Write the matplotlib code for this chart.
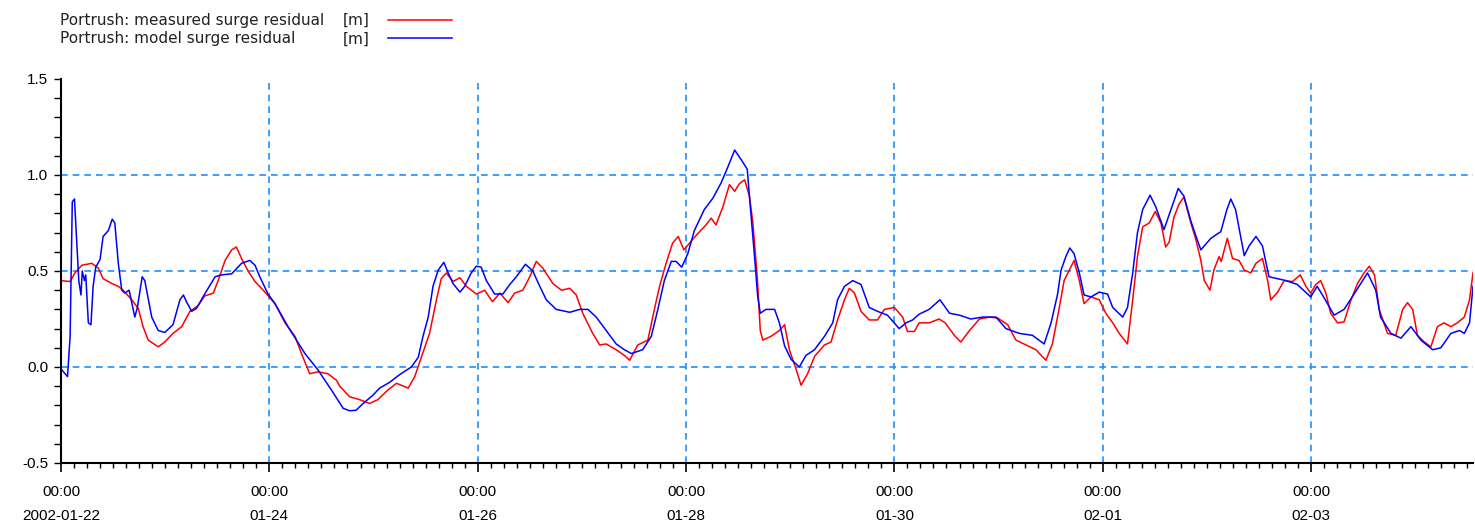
import matplotlib
matplotlib.use("Agg")
import matplotlib.pyplot as plt
import matplotlib.dates as mdates
from matplotlib.ticker import MultipleLocator
import pandas as pd

plt.rcParams['axes.unicode_minus'] = False

# start of the record
start = pd.Timestamp('2002-01-22 00:00')
end_hours = 325.3

# model surge residual (hours after start, metres)
model_hours = [0, 1.5, 2.1, 2.6, 3.1, 3.6, 4.1, 4.6, 4.9, 5.4, 5.7, 6.3, 6.9, 7.4, 8.0, 9.0, 9.7,
               10.9, 11.8, 12.4, 13.2, 14.0, 14.7, 15.7, 17.0, 17.6, 18.7, 19.3, 20.9, 22.4, 23.9,
               25.8, 27.4, 28.2, 28.9, 30.1, 31.2, 33.1, 35.5, 37.0, 39.3, 41.6, 43.5, 44.7, 45.8,
               47.7, 49.3, 52.3, 56.2, 59.2, 62.3, 65.0, 66.5, 68.0, 69.6, 71.9, 73.4, 75.7, 78.0,
               80.7, 82.3, 83.4, 84.6, 85.7, 86.9, 88.2, 89.2, 90.3, 91.9, 93.0, 94.5, 95.7, 96.8,
               98.0, 99.9, 101.8, 103.4, 104.9, 107.0, 108.7, 110.3, 111.8, 114.1, 117.2, 119.5,
               121.4, 123.3, 125.6, 127.9, 129.8, 131.4, 134.0, 136.0, 137.5, 139.0, 140.6, 141.7,
               143.0, 144.4, 145.9, 148.2, 150.2, 152.1, 153.6, 155.2, 156.7, 158.1, 158.6, 159.8,
               160.5, 161.1, 162.4, 164.4, 165.5, 166.7, 168.2, 170.1, 171.6, 173.6, 175.9, 177.8,
               178.9, 180.5, 182.4, 184.3, 186.2, 188.1, 190.4, 193.1, 194.7, 196.2, 197.7, 200.0,
               202.5, 204.7, 207.0, 209.6, 212.3, 215.4, 217.7, 220.8, 223.8, 226.5, 228.1, 229.6,
               230.4, 231.5, 232.4, 233.4, 234.6, 235.7, 237.3, 239.2, 241.1, 242.3, 244.6, 245.7,
               246.9, 248.0, 249.2, 250.9, 252.2, 254.1, 255.7, 257.4, 258.7, 260.3, 261.5, 262.6,
               264.9, 267.2, 268.6, 269.5, 270.6, 272.6, 273.7, 275.3, 276.8, 278.3, 280.2, 282.2,
               284.8, 287.9, 289.4, 291.0, 293.3, 295.6, 297.9, 301.0, 302.9, 304.0, 306.4, 308.7,
               311.0, 313.3, 316.0, 317.9, 320.2, 322.2, 323.3, 324.5, 325.3]
model_vals = [-0.01, -0.05, 0.16, 0.86, 0.875, 0.66, 0.45, 0.375, 0.50, 0.45, 0.48, 0.23, 0.22, 0.42,
              0.52, 0.56, 0.68, 0.71, 0.77, 0.75, 0.54, 0.40, 0.385, 0.40, 0.26, 0.31, 0.47, 0.45,
              0.26, 0.19, 0.18, 0.22, 0.35, 0.375, 0.34, 0.29, 0.305, 0.38, 0.47, 0.48, 0.485, 0.54,
              0.555, 0.53, 0.47, 0.38, 0.33, 0.21, 0.07, -0.015, -0.12, -0.215, -0.228, -0.225,
              -0.19, -0.146, -0.11, -0.08, -0.04, 0.00, 0.05, 0.16, 0.26, 0.42, 0.505, 0.545, 0.49,
              0.435, 0.39, 0.42, 0.49, 0.525, 0.52, 0.45, 0.38, 0.38, 0.43, 0.47, 0.535, 0.50, 0.42,
              0.35, 0.30, 0.285, 0.30, 0.30, 0.26, 0.19, 0.12, 0.09, 0.07, 0.09, 0.16, 0.30, 0.45,
              0.55, 0.55, 0.52, 0.59, 0.71, 0.82, 0.88, 0.96, 1.04, 1.13, 1.08, 1.03, 0.89, 0.57,
              0.37, 0.28, 0.30, 0.30, 0.23, 0.11, 0.04, 0.00, 0.06, 0.09, 0.16, 0.23, 0.35, 0.42,
              0.45, 0.43, 0.31, 0.29, 0.27, 0.20, 0.23, 0.245, 0.275, 0.30, 0.35, 0.28, 0.27, 0.25,
              0.26, 0.26, 0.20, 0.175, 0.165, 0.12, 0.23, 0.38, 0.505, 0.575, 0.62, 0.59, 0.49,
              0.375, 0.365, 0.39, 0.38, 0.31, 0.26, 0.31, 0.49, 0.70, 0.82, 0.895, 0.835, 0.715,
              0.82, 0.93, 0.89, 0.76, 0.68, 0.61, 0.67, 0.705, 0.82, 0.875, 0.82, 0.58, 0.63, 0.68,
              0.63, 0.47, 0.46, 0.45, 0.43, 0.365, 0.42, 0.36, 0.27, 0.30, 0.38, 0.49, 0.40, 0.26,
              0.175, 0.15, 0.21, 0.14, 0.09, 0.10, 0.175, 0.19, 0.175, 0.23, 0.42]

# measured surge residual (hours after start, metres)
meas_hours = [0, 2.1, 3.2, 4.8, 7.1, 8.6, 9.7, 11.7, 13.2, 14.3, 16.3, 17.8, 18.9, 20.1, 22.4, 23.9,
              25.8, 27.8, 29.7, 31.6, 33.1, 35.1, 36.2, 37.8, 39.3, 40.4, 41.6, 43.1, 44.7, 47.0,
              49.3, 51.6, 53.9, 55.4, 57.3, 59.2, 61.5, 63.5, 64.2, 66.5, 68.8, 71.1, 73.0, 75.3,
              77.3, 80.0, 81.5, 83.0, 84.9, 86.5, 87.6, 88.8, 90.3, 91.9, 93.4, 95.7, 97.6, 99.4,
              101.1, 103.0, 104.5, 106.4, 108.0, 109.5, 111.0, 113.3, 115.3, 117.2, 118.7, 120.2,
              122.5, 124.1, 125.6, 127.9, 129.8, 131.0, 132.9, 135.2, 136.7, 137.9, 139.4, 140.9,
              142.2, 143.5, 144.8, 146.7, 148.6, 149.8, 150.9, 152.5, 154.0, 155.2, 156.3, 157.5,
              158.6, 159.4, 160.4, 161.1, 161.7, 163.6, 165.5, 166.7, 167.8, 169.4, 170.5, 172.0,
              173.6, 175.9, 177.4, 178.9, 180.5, 181.6, 182.8, 184.3, 186.2, 188.1, 189.7, 192.0,
              193.9, 195.0, 196.6, 197.7, 200.0, 202.3, 203.7, 205.8, 207.3, 209.3, 211.6, 213.9,
              215.8, 218.1, 220.0, 222.3, 224.6, 226.9, 228.4, 230.0, 231.1, 232.3, 233.4, 234.6,
              235.7, 237.3, 239.2, 240.7, 242.3, 243.8, 245.7, 246.9, 248.0, 249.2, 250.7, 252.1,
              253.4, 254.5, 255.3, 256.4, 257.6, 258.7, 260.3, 261.5, 262.6, 263.4, 264.7, 265.6,
              266.8, 267.3, 268.7, 269.9, 271.4, 272.6, 274.1, 275.3, 276.8, 278.0, 278.7, 280.3,
              281.8, 283.7, 285.5, 286.8, 287.9, 289.1, 290.2, 291.4, 292.5, 294.1, 295.6, 297.2,
              298.7, 300.2, 301.4, 302.6, 303.7, 305.6, 307.5, 309.1, 310.2, 311.4, 312.5, 314.1,
              315.6, 317.1, 318.6, 320.2, 321.7, 323.3, 324.5, 325.3]
meas_vals = [0.45, 0.445, 0.49, 0.53, 0.54, 0.515, 0.46, 0.435, 0.42, 0.40, 0.35, 0.305, 0.21, 0.14,
             0.105, 0.13, 0.175, 0.21, 0.29, 0.32, 0.37, 0.385, 0.45, 0.555, 0.61, 0.625, 0.565,
             0.50, 0.445, 0.39, 0.33, 0.23, 0.16, 0.07, -0.035, -0.025, -0.035, -0.07, -0.10,
             -0.155, -0.17, -0.19, -0.17, -0.12, -0.085, -0.11, -0.05, 0.05, 0.175, 0.35, 0.46,
             0.49, 0.445, 0.465, 0.42, 0.38, 0.40, 0.34, 0.385, 0.335, 0.385, 0.40, 0.47, 0.55,
             0.515, 0.435, 0.40, 0.41, 0.375, 0.28, 0.175, 0.115, 0.12, 0.09, 0.06, 0.035, 0.115,
             0.14, 0.30, 0.42, 0.54, 0.645, 0.68, 0.61, 0.645, 0.695, 0.74, 0.775, 0.74, 0.835,
             0.95, 0.915, 0.955, 0.975, 0.89, 0.75, 0.47, 0.19, 0.14, 0.16, 0.19, 0.22, 0.09,
             -0.015, -0.095, -0.035, 0.055, 0.115, 0.13, 0.245, 0.35, 0.41, 0.385, 0.29, 0.245,
             0.245, 0.30, 0.31, 0.26, 0.185, 0.185, 0.23, 0.23, 0.25, 0.23, 0.165, 0.13, 0.19,
             0.25, 0.26, 0.255, 0.22, 0.14, 0.115, 0.09, 0.035, 0.12, 0.31, 0.45, 0.505, 0.555,
             0.45, 0.33, 0.365, 0.35, 0.28, 0.23, 0.175, 0.12, 0.35, 0.575, 0.73, 0.75, 0.81, 0.75,
             0.625, 0.65, 0.78, 0.85, 0.885, 0.75, 0.66, 0.555, 0.45, 0.40, 0.505, 0.575, 0.55,
             0.67, 0.565, 0.555, 0.505, 0.49, 0.54, 0.565, 0.45, 0.35, 0.39, 0.45, 0.445, 0.48,
             0.42, 0.385, 0.43, 0.45, 0.385, 0.28, 0.23, 0.235, 0.35, 0.435, 0.49, 0.525, 0.48,
             0.30, 0.175, 0.165, 0.30, 0.335, 0.30, 0.165, 0.13, 0.105, 0.21, 0.23, 0.21, 0.23,
             0.26, 0.35, 0.49]

tick_dates = ['2002-01-22', '2002-01-24', '2002-01-26', '2002-01-28',
              '2002-01-30', '2002-02-01', '2002-02-03']
tick_labels = ['00:00\n2002-01-22', '00:00\n01-24', '00:00\n01-26', '00:00\n01-28',
               '00:00\n01-30', '00:00\n02-01', '00:00\n02-03']
y_ticks = [-0.5, 0.0, 0.5, 1.0, 1.5]

meas_t = start + pd.to_timedelta(meas_hours, unit='h')
model_t = start + pd.to_timedelta(model_hours, unit='h')

fig = plt.figure(figsize=(14.75, 5.27), dpi=100)
ax = fig.add_axes([61 / 1475, 1 - 463 / 527, (1473 - 61) / 1475, (463 - 79) / 527])

line_meas, = ax.plot(meas_t, meas_vals, color='#ff0000', lw=1.1)
line_model, = ax.plot(model_t, model_vals, color='#0000ff', lw=1.1)

ax.set_xlim(start, start + pd.Timedelta(hours=end_hours))
ax.set_ylim(-0.5, 1.5)

ax.set_xticks(pd.to_datetime(tick_dates))
ax.set_xticklabels(tick_labels, linespacing=1.95, fontsize=11, family='Liberation Sans')
ax.xaxis.set_minor_locator(mdates.HourLocator(byhour=range(0, 24, 3)))
ax.set_yticks(y_ticks)
ax.set_yticklabels(['%.1f' % v for v in y_ticks], fontsize=11, family='Liberation Sans')
ax.yaxis.set_minor_locator(MultipleLocator(0.1))

ax.tick_params(axis='x', which='major', length=6.5, width=1.2, pad=9, direction='out')
ax.tick_params(axis='x', which='minor', length=3.6, width=1.0, direction='out')
ax.tick_params(axis='y', which='both', length=5, width=1.0, pad=4, direction='out')

for s in ['top', 'right']:
    ax.spines[s].set_visible(False)
for s in ['left', 'bottom']:
    ax.spines[s].set_linewidth(1.5)

ax.grid(True, which='major', color='#1e90ff', linestyle=(0, (4, 3)), linewidth=1.2)
ax.set_axisbelow(True)
ax.yaxis.get_gridlines()[-1].set_visible(False)

# legend: names on the left, unit and line sample on the right
fig.text(60 / 1475, 1 - 20 / 527, 'Portrush: measured surge residual', fontsize=11,
         va='center', ha='left', color='#222222')
fig.text(60 / 1475, 1 - 39 / 527, 'Portrush: model surge residual', fontsize=11,
         va='center', ha='left', color='#222222')
leg = fig.legend([line_meas, line_model], ['[m]', '[m]'], loc='upper left',
                 bbox_to_anchor=(343 / 1475, 1 - 13 / 527), frameon=False, markerfirst=False,
                 fontsize=11, borderpad=0, borderaxespad=0, labelspacing=0.24,
                 handlelength=4.2, handletextpad=1.2)
for t in leg.get_texts():
    t.set_color('#222222')

fig.savefig('out.png', dpi=100)
